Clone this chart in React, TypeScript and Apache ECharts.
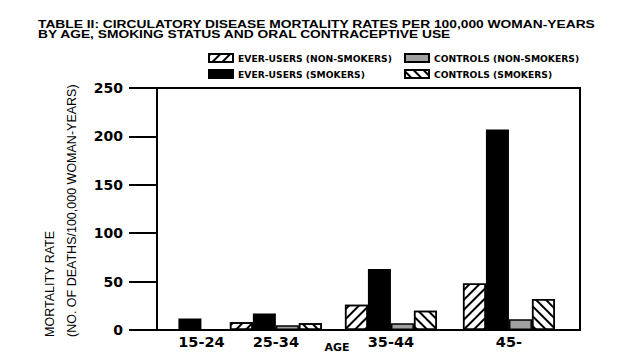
import React, { useEffect, useRef } from "react";
import * as echarts from "echarts";

const ages = ["15-24", "25-34", "35-44", "45-"];
const everUsersNonSmokers = [0, 8, 26, 48];
const everUsersSmokers = [12, 17, 63, 207];
const controlsNonSmokers = [0, 5, 7, 11];
const controlsSmokers = [0, 7, 20, 32];
const yTicks = [0, 50, 100, 150, 200, 250];

// positions of the age groups along the (0-100) horizontal scale
const agePositions = [10.5, 28.1, 55.3, 83.2];

const FONT = "Liberation Sans, Arial, sans-serif";
const WIDE = "DejaVu Sans, sans-serif";

export default function App() {
  const ref = useRef<HTMLDivElement>(null);
  useEffect(() => {
    if (!ref.current) return;
    const chart = echarts.init(ref.current, undefined, { renderer: "svg" });
    const toData = (vals: number[]) => vals.map((v, i) => [agePositions[i], v]);
    const hatch = (rot: number) => ({
      symbol: "rect",
      symbolSize: 1,
      dashArrayX: [1, 0],
      dashArrayY: [1.6, 4.4],
      rotation: rot,
      color: "#000",
      backgroundColor: "#fff",
    });
    const border = { borderColor: "#000", borderWidth: 1.5 };
    const barBase = { type: "bar", barWidth: 23, barGap: "0%", animation: false };
    const legendText = { fontSize: 9.2, fontWeight: "bold", color: "#000", fontFamily: WIDE };
    const option: any = {
      animation: false,
      backgroundColor: "#fff",
      textStyle: { fontFamily: FONT },
      grid: {
        left: 157,
        top: 88,
        width: 423,
        height: 242,
        show: true,
        borderColor: "#000",
        borderWidth: 2,
        backgroundColor: "transparent",
      },
      legend: [
        {
          data: ["EVER-USERS (NON-SMOKERS)", "EVER-USERS (SMOKERS)"],
          orient: "vertical",
          left: 203,
          top: 53,
          padding: [0, 5],
          itemWidth: 24,
          itemHeight: 8,
          itemGap: 6,
          icon: "rect",
          textStyle: legendText,
        },
        {
          data: ["CONTROLS (NON-SMOKERS)", "CONTROLS (SMOKERS)"],
          orient: "vertical",
          left: 399,
          top: 53,
          padding: [0, 5],
          itemWidth: 24,
          itemHeight: 8,
          itemGap: 6,
          icon: "rect",
          textStyle: legendText,
        },
      ],
      xAxis: {
        type: "value",
        min: 0,
        max: 100,
        splitLine: { show: false },
        axisLine: { show: true, onZero: false, lineStyle: { color: "#000", width: 2 } },
        axisTick: { show: false },
        axisLabel: {
          customValues: agePositions,
          formatter: (v: number) => {
            const i = agePositions.findIndex((p) => Math.abs(p - v) < 1e-6);
            return i >= 0 ? ages[i] : "";
          },
          fontSize: 14.5,
          fontWeight: "bold",
          color: "#000",
          margin: 4,
          fontFamily: WIDE,
        },
      },
      yAxis: {
        type: "value",
        min: 0,
        max: 250,
        interval: 50,
        splitLine: { show: false },
        axisLine: { show: true, lineStyle: { color: "#000", width: 2 } },
        axisTick: { show: true, length: 28, lineStyle: { color: "#000", width: 2 } },
        axisLabel: {
          customValues: yTicks,
          fontSize: 14,
          fontWeight: "bold",
          color: "#000",
          margin: 34,
          fontFamily: WIDE,
        },
      },
      graphic: [
        {
          type: "text",
          x: 38,
          y: 24.5,
          scaleX: 1.2,
          style: {
            text: "TABLE II: CIRCULATORY DISEASE MORTALITY RATES PER 100,000 WOMAN-YEARS",
            font: `bold 11.5px ${FONT}`,
            fill: "#000",
            textVerticalAlign: "middle",
          },
        },
        {
          type: "text",
          x: 38,
          y: 34.5,
          scaleX: 1.2,
          style: {
            text: "BY AGE, SMOKING STATUS AND ORAL CONTRACEPTIVE USE",
            font: `bold 11.5px ${FONT}`,
            fill: "#000",
            textVerticalAlign: "middle",
          },
        },
        {
          type: "text",
          x: 50,
          y: 337,
          rotation: Math.PI / 2,
          style: {
            text: "MORTALITY RATE",
            font: `12.5px ${FONT}`,
            fill: "#000",
            textAlign: "left",
            textVerticalAlign: "middle",
          },
        },
        {
          type: "text",
          x: 72,
          y: 337,
          rotation: Math.PI / 2,
          style: {
            text: "(NO. OF DEATHS/100,000 WOMAN-YEARS)",
            font: `12.5px ${FONT}`,
            fill: "#000",
            textAlign: "left",
            textVerticalAlign: "middle",
          },
        },
        {
          type: "text",
          x: 337,
          y: 347,
          style: {
            text: "AGE",
            font: `bold 11px ${WIDE}`,
            fill: "#000",
            textAlign: "center",
            textVerticalAlign: "middle",
          },
        },
      ],
      series: [
        {
          ...barBase,
          name: "EVER-USERS (NON-SMOKERS)",
          data: toData(everUsersNonSmokers),
          itemStyle: { color: "#fff", ...border, decal: hatch(-Math.PI / 4) },
        },
        {
          ...barBase,
          name: "EVER-USERS (SMOKERS)",
          data: toData(everUsersSmokers),
          itemStyle: { color: "#000", ...border },
        },
        {
          ...barBase,
          name: "CONTROLS (NON-SMOKERS)",
          data: toData(controlsNonSmokers),
          itemStyle: { color: "#a0a0a0", ...border },
        },
        {
          ...barBase,
          name: "CONTROLS (SMOKERS)",
          data: toData(controlsSmokers),
          itemStyle: { color: "#fff", ...border, decal: hatch(Math.PI / 4) },
        },
      ],
    };
    chart.setOption(option);
    return () => chart.dispose();
  }, []);
  return (
    <div
      ref={ref}
      style={{ position: "fixed", left: 0, top: 0, width: 623, height: 363, background: "#fff" }}
    />
  );
}
